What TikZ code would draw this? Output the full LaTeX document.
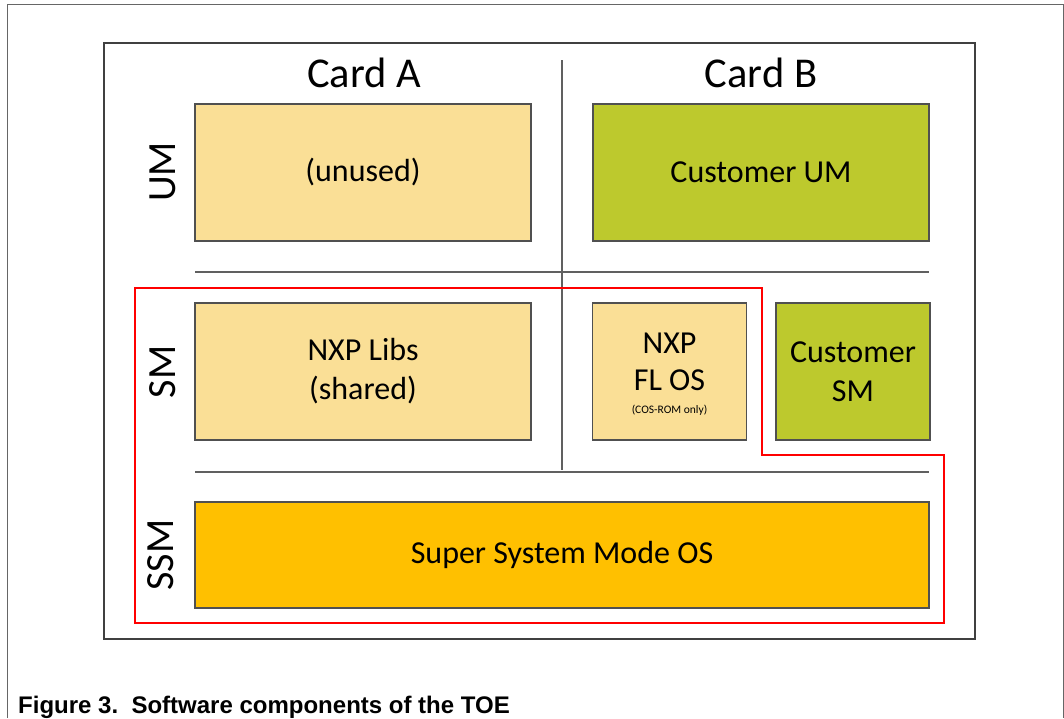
\documentclass[tikz,border=0pt]{standalone}
\usepackage{fontspec}
\setmainfont{Carlito}
\newfontfamily\capfont{Liberation Sans}
\definecolor{tanfill}{HTML}{FADF96}
\definecolor{olivefill}{HTML}{BDC92D}
\definecolor{orangefill}{HTML}{FFC000}
\definecolor{boxedge}{HTML}{505050}
\definecolor{lineclr}{HTML}{606060}
\begin{document}
\begin{tikzpicture}[x=1pt,y=-1pt,
  compbox/.style={draw=boxedge, line width=1.4pt, inner sep=0pt, align=center,
    font=\fontsize{32}{39}\selectfont},
  tanbox/.style={compbox, fill=tanfill},
  olivebox/.style={compbox, fill=olivefill},
  orangebox/.style={compbox, fill=orangefill},
  colhead/.style={font=\fontsize{42.5}{48}\selectfont, inner sep=0pt},
  rowhead/.style={font=\fontsize{40}{46}\selectfont, inner sep=0pt, rotate=90},
  divline/.style={draw=lineclr, line width=1.4pt}]
\useasboundingbox (0,0) rectangle (1064,718);
% outer frame
\draw[draw=gray!80!black, line width=1pt] (7,718) -- (7,4) -- (1063,4) -- (1063,718);
% inner frame
\draw[draw=black!75, line width=1.6pt] (104,43) rectangle (975,639);
% headers
\node[colhead] (cardA) at (364,73) {Card A};
\node[colhead] (cardB) at (761,73) {Card B};
\node[rowhead] (um) at (163,172) {UM};
\node[rowhead] (sm) at (163,372) {SM};
\node[rowhead] (ssm) at (161,555) {SSM};
% divider lines
\coordinate (vtop) at (562,60);
\coordinate (vbot) at (562,470);
\coordinate (h1l) at (195,272);
\coordinate (h1r) at (929,272);
\coordinate (h2l) at (195,472);
\coordinate (h2r) at (929,472);
\draw[divline] (vtop) -- (vbot);
\draw[divline] (h1l) -- (h1r);
\draw[divline] (h2l) -- (h2r);
% boxes
\node[tanbox, minimum width=336pt, minimum height=137pt] (unused) at (363,172.5) {(unused)};
\node[olivebox, minimum width=336pt, minimum height=137pt] (custum) at (761,172.5) {Customer UM};
\node[tanbox, minimum width=336pt, minimum height=137pt] (nxplibs) at (363,371.5) {NXP Libs\\(shared)};
\node[tanbox, minimum width=154pt, minimum height=137pt] (flos) at (669.5,371.5) {};
\node[font=\fontsize{32}{37}\selectfont, align=center, inner sep=0pt, anchor=base] (flostext) at (669.5,390) {NXP\\FL OS};
\node[font=\fontsize{11.5}{13}\selectfont, inner sep=0pt, anchor=base] (flosnote) at (669.5,413) {(COS-ROM only)};
\node[olivebox, minimum width=154pt, minimum height=137pt] (custsm) at (853,371.5) {Customer\\SM};
\node[orangebox, minimum width=734pt, minimum height=106pt] (ssmos) at (562,555) {Super System Mode OS};
% red boundary
\draw[red, line width=2.4pt] (135,288) -- (762,288) -- (762,455) -- (944,455) -- (944,623) -- (135,623) -- cycle;
% caption
\node[font=\capfont\bfseries\fontsize{24}{28}\selectfont, inner sep=0pt, anchor=base west] (caption) at (18,713) {Figure 3.\ \ Software components of the TOE};
\end{tikzpicture}
\end{document}
